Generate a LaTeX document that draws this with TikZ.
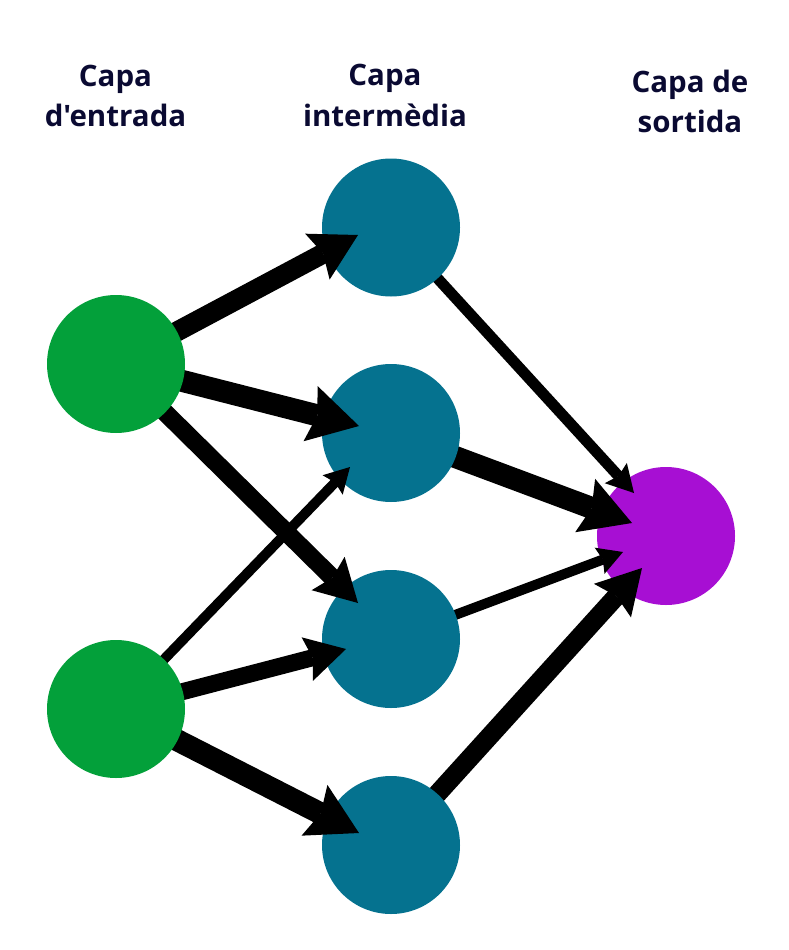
\documentclass[tikz,border=0pt]{standalone}
\usepackage{fontspec}
\setmainfont{Open Sans}[Ligatures=TeXOff]
\usetikzlibrary{arrows.meta}
\definecolor{ingreen}{RGB}{3,160,58}
\definecolor{hidteal}{RGB}{5,114,143}
\definecolor{outpurple}{RGB}{167,15,211}
\definecolor{labnavy}{RGB}{10,10,50}
\pgfdeclarelayer{lA}
\pgfdeclarelayer{lB}
\pgfdeclarelayer{lC}
\pgfdeclarelayer{lD}
\pgfsetlayers{lA,lB,lC,lD,main}
\tikzset{
  neuron/.style={circle, minimum size=138pt, inner sep=0pt, draw=none},
  conn/.style n args={4}{draw=black, line width=#1pt,
    -{Stealth[length=#2pt, width=#3pt, inset=#4pt, line width=0pt]}},
  lab/.style={font=\fontsize{29.5}{40.5}\selectfont\bfseries, text=labnavy, align=center, anchor=base, inner sep=0pt}
}
\begin{document}
\begin{tikzpicture}[x=1pt, y=-1pt]
\useasboundingbox (0,0) rectangle (788,950);
% labels
\node[lab] (lin) at (115.5,126.7) {Capa\\d'entrada};
\node[lab] (lhid) at (385,126) {Capa\\intermèdia};
\node[lab] (lout) at (690,132.7) {Capa de\\sortida};
% neurons
\begin{pgfonlayer}{lA}
\node[neuron, fill=outpurple] (o) at (666,536) {};
\end{pgfonlayer}
\begin{pgfonlayer}{lC}
\node[neuron, fill=hidteal] (h1) at (391,227.5) {};
\node[neuron, fill=hidteal] (h2) at (391,433) {};
\node[neuron, fill=hidteal] (h3) at (391,639) {};
\node[neuron, fill=hidteal] (h4) at (391,845) {};
\end{pgfonlayer}
\node[neuron, fill=ingreen] (i1) at (116,364) {};
\node[neuron, fill=ingreen] (i2) at (116,709) {};
% arrow tips
\coordinate (t1) at (358,235);
\coordinate (t2) at (359,426);
\coordinate (t3) at (358,603);
\coordinate (t4) at (350,467);
\coordinate (t5) at (346,649);
\coordinate (t6) at (359,833);
\coordinate (t7) at (634,493);
\coordinate (t8) at (632,523);
\coordinate (t9) at (623,552);
\coordinate (t10) at (642,568);
% hidden -> output
\begin{pgfonlayer}{lB}
\draw[conn={11}{27}{30}{4}] (h1.center) -- (t7);
\draw[conn={22}{50}{57}{7}] (h2.center) -- (t8);
\draw[conn={10}{25}{28}{3.5}] (h3.center) -- (t9);
\draw[conn={19}{44}{50}{6}] (h4.center) -- (t10);
\end{pgfonlayer}
% input -> hidden
\begin{pgfonlayer}{lD}
\draw[conn={20}{46}{52}{6.5}] (i1.center) -- (t1);
\draw[conn={22}{50}{57}{7}] (i1.center) -- (t2);
\draw[conn={18}{42}{47}{6}] (i1.center) -- (t3);
\draw[conn={10}{25}{28}{3.5}] (i2.center) -- (t4);
\draw[conn={17}{40}{45}{5.5}] (i2.center) -- (t5);
\draw[conn={22}{50}{57}{7}] (i2.center) -- (t6);
\end{pgfonlayer}
\end{tikzpicture}
\end{document}
